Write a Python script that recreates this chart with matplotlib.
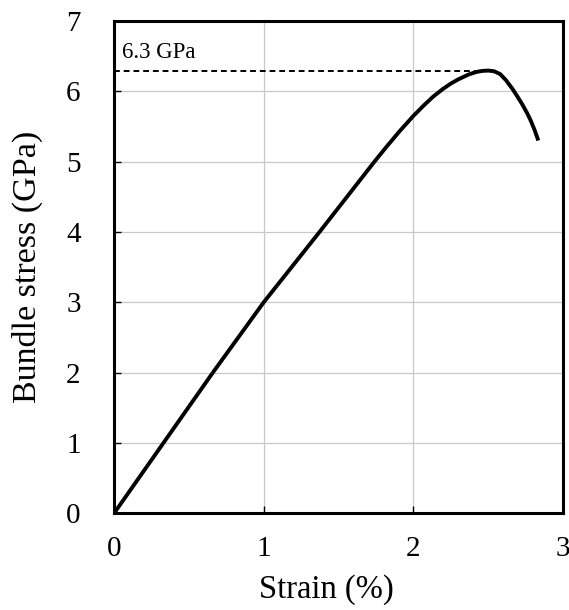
import numpy as np
import matplotlib
matplotlib.use("Agg")
import matplotlib.pyplot as plt

# strain (%) vs bundle stress (GPa)
strain = [0.0, 0.33, 0.66, 1.0, 1.373, 1.74, 1.82, 1.907, 2.0, 2.07, 2.13,
          2.195, 2.25, 2.30, 2.37, 2.42, 2.46, 2.50, 2.54, 2.58, 2.618,
          2.662, 2.70, 2.729, 2.76, 2.785, 2.81, 2.835]
stress = [0.0, 1.0, 2.0, 3.0, 4.0, 5.0, 5.21, 5.43, 5.65, 5.80, 5.92,
          6.03, 6.11, 6.17, 6.24, 6.275, 6.29, 6.295, 6.285, 6.245, 6.16,
          6.035, 5.91, 5.81, 5.69, 5.58, 5.45, 5.30]

peak_stress = 6.29
peak_line_end = 2.55
peak_label = "6.3 GPa"

xticks = [0, 1, 2, 3]
yticks = [0, 1, 2, 3, 4, 5, 6, 7]

plt.rcParams['font.family'] = ['Liberation Serif', 'DejaVu Serif']

fig = plt.figure(figsize=(5.69, 6.10), dpi=100)
ax = fig.add_axes([0.2004, 0.1585, 0.7891, 0.8071])

ax.grid(True, color='#c8c8c8', linewidth=0.9)
ax.set_axisbelow(True)

ax.plot([0, peak_line_end], [peak_stress, peak_stress], color='black',
        linestyle=(0, (3, 2)), linewidth=1.4)
ax.plot(strain, stress, color='black', linewidth=2.8,
        solid_capstyle='butt', solid_joinstyle='round')
ax.text(0.05, 6.40, peak_label, fontsize=16.5, ha='left', va='bottom')

ax.set_xlim(0, 3)
ax.set_ylim(0, 7)
ax.set_xticks(xticks)
ax.set_yticks(yticks)
ax.tick_params(direction='in', length=5, width=1, labelsize=21)
ax.tick_params(axis='x', pad=16)
ax.tick_params(axis='y', pad=24)
for s in ax.spines.values():
    s.set_linewidth(2.2)

ax.set_xlabel("Strain (%)", fontsize=23.5)
ax.set_ylabel("Bundle stress (GPa)", fontsize=24.5)
ax.xaxis.set_label_coords(0.472, -0.124)
ax.yaxis.set_label_coords(-0.158, 0.5)

fig.savefig("out.png", dpi=100)
